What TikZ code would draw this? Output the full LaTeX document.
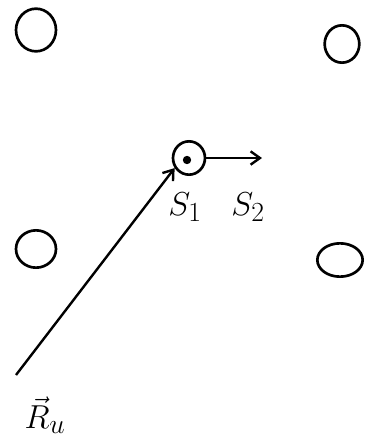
\documentclass[tikz,border=0pt]{standalone}
\usepackage{amsmath}
\usetikzlibrary{arrows.meta,positioning,shapes.geometric}
\tikzset{
  ring/.style={draw,ellipse,line width=2pt,inner sep=0pt},
  site/.style={ring,minimum width=1.45cm,minimum height=1.45cm},
  dotnode/.style={circle,fill,inner sep=0pt,minimum size=0.22cm},
  arr/.style={-{Straight Barb[length=7pt,width=10pt]},line width=1.8pt},
  lbl/.style={font=\fontsize{30}{32}\selectfont,inner sep=0pt}
}
\begin{document}
\begin{tikzpicture}[x=0.75pt,y=-0.75pt,node distance=0.4cm and 1.0cm]
  \useasboundingbox (0,0) rectangle (372,447);
  % corner sites
  \node[site,minimum width=30pt,minimum height=32pt] (tl) at (36,30) {};
  \node[site,minimum width=26pt,minimum height=28pt] (tr) at (342,44) {};
  \node[site,minimum width=30pt,minimum height=28pt] (ml) at (36,249) {};
  \node[site,minimum width=34pt,minimum height=25pt] (mr) at (340,260) {};
  % centre site
  \node[ring,minimum width=24pt,minimum height=25pt] (s1) at (189,158) {};
  \node[dotnode] (c) at (187,160) {};
  \coordinate (tip) at (262,158);
  \coordinate (ru) at (16,375);

  \draw[arr] (s1.east) -- (tip);
  \draw[arr] (ru) -- (s1.215);

  \node[lbl] (l1) at (185,207) {$S_1$};
  \node[lbl] (l2) at (248,207) {$S_2$};
  \node[lbl] (lr) at (45,415) {$\vec{R}_u$};
\end{tikzpicture}
\end{document}
